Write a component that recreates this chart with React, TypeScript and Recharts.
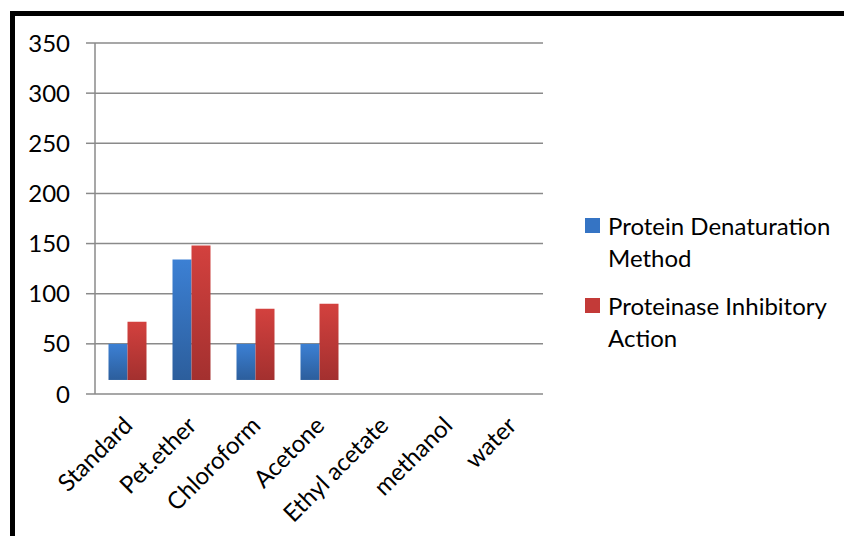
import React from 'react';
import { BarChart, Bar, XAxis, YAxis, CartesianGrid } from 'recharts';

const categories = ['Standard', 'Pet.ether', 'Chloroform', 'Acetone', 'Ethyl acetate', 'methanol', 'water'];
const denaturation = [50, 134, 50, 50, null, null, null];
const inhibitory = [72, 148, 85, 90, null, null, null];
const barBase = 14; // bars float above the zero line in the original
const yTicks = [0, 50, 100, 150, 200, 250, 300, 350];
const boundaryTicks = [0, 1, 2, 3, 4, 5, 6, 7];

const seriesNames = ['Protein Denaturation Method', 'Proteinase Inhibitory Action'];

const data = categories.map((name, i) => ({
  name,
  den: denaturation[i] == null ? null : [barBase, denaturation[i]],
  inh: inhibitory[i] == null ? null : [barBase, inhibitory[i]],
}));

const FONT = 'Lato, "Open Sans", sans-serif';
const GRID = '#8a8a8a';

// eslint-disable-next-line @typescript-eslint/no-explicit-any
const XTick = ({ x, y, payload }: any) => (
  <text
    x={x + 7}
    y={y + 25}
    transform={`rotate(-45, ${x + 7}, ${y + 25})`}
    textAnchor="end"
    fontSize={24}
    fontFamily={FONT}
    fill="#000"
  >
    {payload.value}
  </text>
);

const legendColors = ['#3574c4', '#c33a38'];

const LegendBox = () => (
  <div
    style={{
      position: 'absolute',
      left: 585,
      top: 210,
      fontFamily: FONT,
      fontSize: 24,
      color: '#000',
      lineHeight: '32px',
    }}
  >
    {seriesNames.map((s, i) => (
      <div key={s} style={{ display: 'flex', alignItems: 'flex-start', marginBottom: 16 }}>
        <span
          style={{
            display: 'inline-block',
            width: 15,
            height: 15,
            marginTop: 8,
            marginRight: 8,
            background: legendColors[i],
            flexShrink: 0,
          }}
        />
        <span style={{ width: 240 }}>{s}</span>
      </div>
    ))}
  </div>
);

export default function App() {
  return (
    <div style={{ position: 'relative', width: 852, height: 544, margin: -8, overflow: 'hidden', background: '#fff' }}>
      <div
        style={{
          position: 'absolute',
          left: 10,
          top: 11,
          width: 900,
          height: 600,
          borderTop: '5px solid #000',
          borderLeft: '5px solid #000',
        }}
      />
      <div style={{ position: 'absolute', left: 0, top: 0 }}>
        <BarChart
          width={852}
          height={544}
          data={data}
          margin={{ top: 43, right: 309, left: 0, bottom: 0 }}
          barCategoryGap={13.5}
          barGap={0}
        >
          <defs>
            <linearGradient id="gBlue" x1="0" y1="0" x2="0" y2="1">
              <stop offset="0%" stopColor="#3c80d4" />
              <stop offset="100%" stopColor="#2c5e9c" />
            </linearGradient>
            <linearGradient id="gRed" x1="0" y1="0" x2="0" y2="1">
              <stop offset="0%" stopColor="#d3413e" />
              <stop offset="100%" stopColor="#a3302f" />
            </linearGradient>
          </defs>
          <CartesianGrid vertical={false} stroke={GRID} strokeWidth={1.5} />
          <XAxis
            xAxisId="ticks"
            type="number"
            domain={[0, 7]}
            ticks={boundaryTicks}
            tickFormatter={() => ''}
            height={0}
            axisLine={{ stroke: GRID, strokeWidth: 1.5 }}
            tickLine={{ stroke: GRID, strokeWidth: 1.5 }}
            tickSize={9}
          />
          <XAxis
            xAxisId="cat"
            dataKey="name"
            height={150}
            axisLine={false}
            tickLine={false}
            interval={0}
            tick={<XTick />}
          />
          <YAxis
            width={95}
            domain={[0, 350]}
            ticks={yTicks}
            interval={0}
            axisLine={{ stroke: GRID, strokeWidth: 1.5 }}
            tickLine={{ stroke: GRID, strokeWidth: 1.5 }}
            tickSize={9}
            tickMargin={16}
            tick={{ fontSize: 24, fontFamily: FONT, fill: '#000' }}
          />
          <Bar xAxisId="cat" dataKey="den" name={seriesNames[0]} fill="url(#gBlue)" isAnimationActive={false} />
          <Bar xAxisId="cat" dataKey="inh" name={seriesNames[1]} fill="url(#gRed)" isAnimationActive={false} />
        </BarChart>
      </div>
      <LegendBox />
    </div>
  );
}
